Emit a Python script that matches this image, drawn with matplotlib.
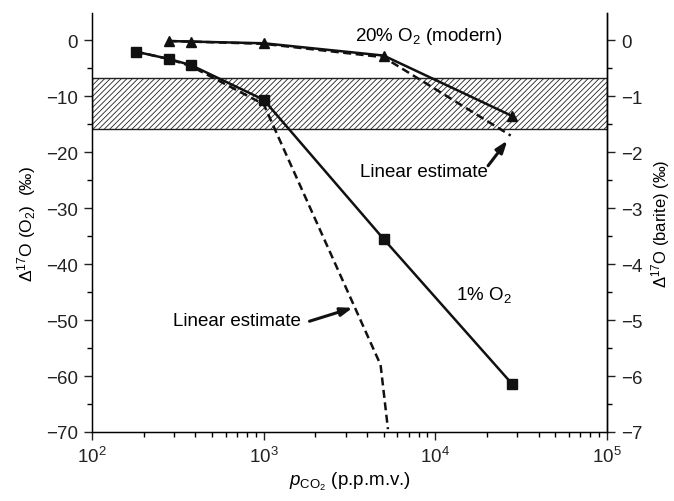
import matplotlib
matplotlib.use("Agg")
import matplotlib.pyplot as plt
from matplotlib.ticker import MultipleLocator

plt.rcParams['font.family'] = ['Liberation Sans', 'DejaVu Sans']
plt.rcParams['mathtext.fontset'] = 'custom'
plt.rcParams['mathtext.rm'] = 'Liberation Sans'
plt.rcParams['mathtext.it'] = 'Liberation Sans:italic'
plt.rcParams['hatch.linewidth'] = 0.6

# model results, 1% O2 (squares)
pco2_low = [180, 280, 377, 1000, 5000, 28000]
d17_low = [-2.0, -3.3, -4.4, -10.6, -35.5, -61.4]
# linear estimate for 1% O2 (dashed)
pco2_low_lin = [180, 280, 377, 1000, 4800, 5300]
d17_low_lin = [-2.0, -3.3, -4.6, -11.4, -58.0, -69.5]

# model results, 20% O2 (triangles)
pco2_mod = [280, 377, 1000, 5000, 28000]
d17_mod = [-0.1, -0.2, -0.5, -2.7, -13.5]
# linear estimate for 20% O2 (dashed)
pco2_mod_lin = [280, 377, 1000, 5000, 27500]
d17_mod_lin = [-0.1, -0.2, -0.6, -3.0, -17.0]

# barite range
band = (-15.8, -6.8)

fig = plt.figure(figsize=(6.74, 5.02), dpi=100)
ax = fig.add_axes([0.1365, 0.1375, 0.764, 0.8345])

ax.axhspan(band[0], band[1], facecolor='white', edgecolor='#222222',
           hatch='//////', linewidth=1.0, zorder=1)

ax.plot(pco2_low_lin, d17_low_lin, color='#111111', lw=1.8,
        linestyle=(0, (3.2, 1.8)), zorder=2)
ax.plot(pco2_mod_lin, d17_mod_lin, color='#111111', lw=1.8,
        linestyle=(0, (3.2, 1.8)), zorder=2)
ax.plot(pco2_low, d17_low, color='#111111', lw=1.8, marker='s',
        markersize=7, zorder=3)
ax.plot(pco2_mod, d17_mod, color='#111111', lw=1.8, marker='^',
        markersize=7.5, zorder=3)

ax.set_xscale('log')
ax.set_xlim(100, 100000)
ax.set_ylim(-70, 4.9)
ax.yaxis.set_major_locator(MultipleLocator(10))
ax.yaxis.set_minor_locator(MultipleLocator(5))
ax.spines['top'].set_visible(False)
for s in ax.spines.values():
    s.set_linewidth(1.0)
ax.tick_params(which='major', length=6, width=1.0, labelsize=13.5,
               colors='#222222', pad=4)
ax.tick_params(which='minor', length=3.5, width=1.0)
ax.set_yticks(range(-70, 1, 10))
ax.set_yticklabels(['\u221270', '\u221260', '\u221250', '\u221240', '\u221230',
                    '\u221220', '\u221210', '0'])

ax.set_xlabel(r'$p_{\mathrm{CO_2}}$ (p.p.m.v.)', fontsize=13.5, labelpad=3)
ax.set_ylabel('\u0394$^{17}$O (O$_2$)  (\u2030)', fontsize=12.5, labelpad=6)

ax2 = ax.twinx()
ax2.set_ylim(-7, 0.49)
ax2.yaxis.set_major_locator(MultipleLocator(1))
ax2.yaxis.set_minor_locator(MultipleLocator(0.5))
ax2.spines['top'].set_visible(False)
ax2.spines['right'].set_linewidth(1.0)
ax2.tick_params(which='major', length=6, width=1.0, labelsize=13.5,
                colors='#222222', pad=4)
ax2.tick_params(which='minor', length=3.5, width=1.0)
ax2.set_yticks(range(-7, 1))
ax2.set_yticklabels(['\u22127', '\u22126', '\u22125', '\u22124', '\u22123',
                     '\u22122', '\u22121', '0'])
ax2.set_ylabel('\u0394$^{17}$O (barite) (\u2030)', fontsize=12, labelpad=5)

arrow = dict(arrowstyle='-|>,head_length=0.7,head_width=0.25',
             color='#111111', lw=2.2, shrinkA=0, shrinkB=0)

ax.text(9200, 0.8, '20% O$_2$ (modern)', fontsize=13.5, ha='center', va='center')
ax.text(19300, -45.3, '1% O$_2$', fontsize=13.5, ha='center', va='center')

ax.text(8600, -23.5, 'Linear estimate', fontsize=13.5, ha='center', va='center')
ax.annotate('', xy=(26300, -17.9), xytext=(20300, -22.4), arrowprops=arrow)

ax.text(700, -50.0, 'Linear estimate', fontsize=13.5, ha='center', va='center')
ax.annotate('', xy=(3300, -47.8), xytext=(1850, -50.2), arrowprops=arrow)

fig.savefig('out.png', dpi=100)
